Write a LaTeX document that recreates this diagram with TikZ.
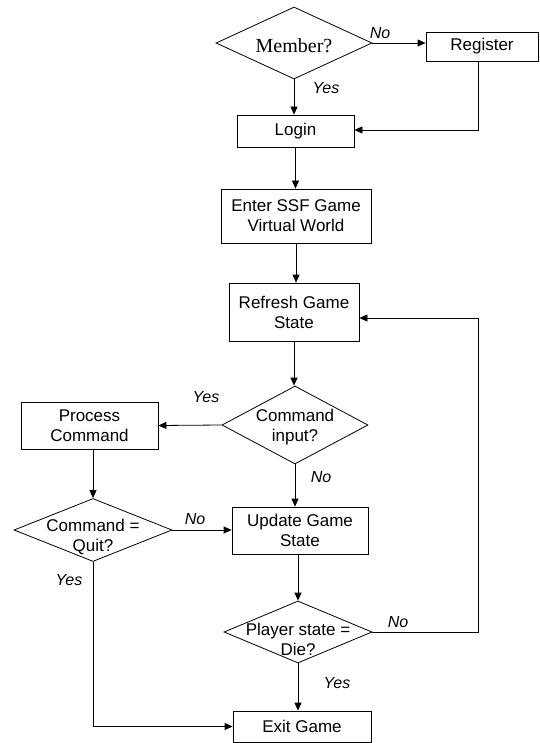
\documentclass[tikz,border=0pt]{standalone}
\usepackage{fontspec}
\setmainfont{Liberation Sans}
\newfontfamily\serifface{Liberation Serif}
\usetikzlibrary{shapes.geometric,arrows.meta}
\begin{document}
\begin{tikzpicture}[x=1pt,y=-1pt,
  line width=0.8pt,
  every node/.style={font=\fontsize{17}{20}\selectfont},
  box/.style={draw, rectangle, align=center, inner sep=0pt},
  decision/.style={draw, diamond, inner sep=0pt},
  dtext/.style={align=center, inner sep=0pt},
  lbl/.style={font=\fontsize{16}{19}\selectfont\itshape, inner sep=0pt},
  flow/.style={-{Triangle[length=8pt,width=7pt]}}]
\useasboundingbox (0,0) rectangle (539,743);

% process boxes
\node[box, minimum width=112pt, minimum height=29pt] (register) at (482,46.5) {Register};
\node[box, minimum width=117pt, minimum height=32pt] (login) at (295.5,131) {Login};
\node[box, minimum width=150pt, minimum height=54pt] (enter) at (296,216) {Enter SSF Game\\Virtual World};
\node[box, minimum width=130pt, minimum height=58pt] (refresh) at (294,312) {Refresh Game\\State};
\node[box, minimum width=137pt, minimum height=47pt] (process) at (89.5,425.5) {Process\\Command};
\node[box, minimum width=136pt, minimum height=47pt] (update) at (300,530.5) {Update Game\\State};
\node[box, minimum width=138pt, minimum height=31pt] (exit) at (302,726.5) {Exit Game};

% decisions
\node[decision, minimum width=156pt, minimum height=72pt,
  label={[dtext, font=\serifface\fontsize{20}{24}\selectfont, yshift=-3pt]center:Member?}] (member) at (294,43) {};
\node[decision, minimum width=146pt, minimum height=78pt,
  label={[dtext, yshift=-2pt]center:{Command\\input?}}] (cmd) at (295,425) {};
\node[decision, minimum width=158pt, minimum height=63pt,
  label={[dtext, yshift=-7pt]center:{Command =\\Quit?}}] (quit) at (93,530) {};
\node[decision, minimum width=148pt, minimum height=62pt,
  label={[dtext, yshift=-7pt]center:{Player state =\\Die?}}] (die) at (298,632) {};

% branch labels
\node[lbl] (memberno) at (380,33) {No};
\node[lbl] (memberyes) at (326,88) {Yes};
\node[lbl] (cmdyes) at (206,397) {Yes};
\node[lbl] (cmdno) at (321,477) {No};
\node[lbl] (quitno) at (195,519) {No};
\node[lbl] (quityes) at (69,580) {Yes};
\node[lbl] (dieno) at (398,622) {No};
\node[lbl] (dieyes) at (337,683) {Yes};

\coordinate (loop) at (478,632);

% connectors
\draw[flow] (member.east) -- (member.east -| register.west);
\draw[flow] (member.south) -- (member.south |- login.north);
\draw[flow] ([xshift=-4pt]register.south) |- ([yshift=1pt]login.east);
\draw[flow] (login.south) -- (login.south |- enter.north);
\draw[flow] (enter.south) -- (enter.south |- refresh.north);
\draw[flow] (refresh.south) -- (refresh.south |- cmd.north);
\draw[flow] (cmd.west) -- (process.east);
\draw[flow] (cmd.south) -- (cmd.south |- update.north);
\draw[flow] (quit.north |- process.south) -- (quit.north);
\draw[flow] (quit.east) -- (quit.east -| update.west);
\draw[flow] (quit.south) |- (exit.west);
\draw[flow] (die.north |- update.south) -- (die.north);
\draw[flow] (die.south) -- (die.south |- exit.north);
\draw[flow] (die.east) -- (loop) |- ([yshift=-6pt]refresh.east);
\end{tikzpicture}
\end{document}
